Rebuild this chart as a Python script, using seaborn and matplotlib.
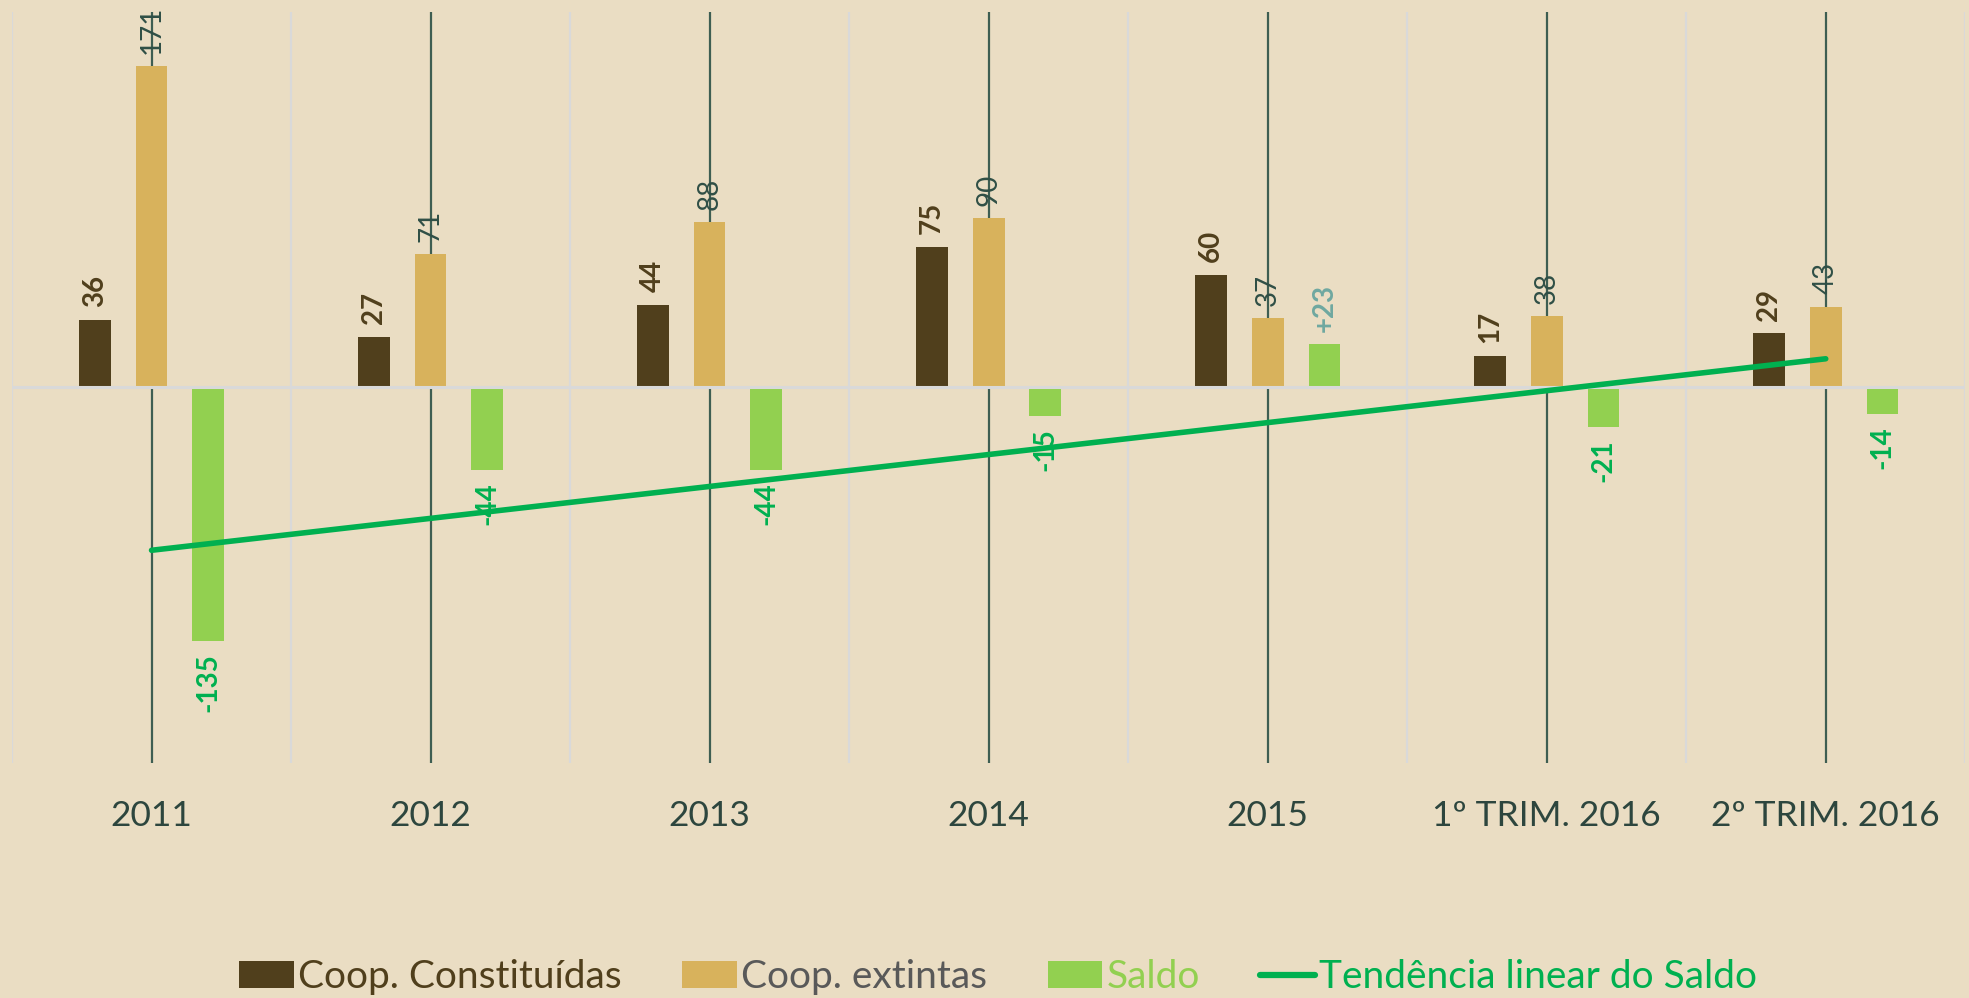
import matplotlib.pyplot as plt
import numpy as np
import pandas as pd
import seaborn as sns
from matplotlib.lines import Line2D
from matplotlib.patches import Patch


PERIODOS = ["2011", "2012", "2013", "2014", "2015", "1º TRIM. 2016", "2º TRIM. 2016"]
CONSTITUIDAS = [36, 27, 44, 75, 60, 17, 29]
EXTINTAS = [171, 71, 88, 90, 37, 38, 43]
SALDO = [-135, -44, -44, -15, 23, -21, -14]
SERIES = ["Coop. Constituídas", "Coop. extintas", "Saldo"]
TREND_NAME = "Tendência linear do Saldo"

BG = "#eaddc3"
BAR_COLORS = ["#503f1c", "#d8b25c", "#92d050"]
LEGEND_TEXT_COLORS = ["#503f1c", "#595959", "#92d050", "#00b050"]
TREND_COLOR = "#00b050"
CENTER_LINE = "#3e5e52"
GRID_LIGHT = "#d9d9d9"


def build_frame():
    rows = []
    for serie, values in zip(SERIES, [CONSTITUIDAS, EXTINTAS, SALDO]):
        for periodo, v in zip(PERIODOS, values):
            rows.append({"periodo": periodo, "serie": serie, "valor": v})
    return pd.DataFrame(rows)


def main():
    sns.set_theme(style="white")
    plt.rcParams["font.family"] = ["Lato", "DejaVu Sans"]

    df = build_frame()

    fig = plt.figure(figsize=(19.69, 9.98), dpi=100, facecolor=BG)
    ax = fig.add_axes([0.0061, 0.2355, 0.992, 0.7525])
    ax.set_facecolor(BG)

    # category separators and center lines
    for i in range(len(PERIODOS) + 1):
        ax.axvline(i - 0.5, color=GRID_LIGHT, lw=1.6, zorder=0.3)
    for i in range(len(PERIODOS)):
        ax.axvline(i, color=CENTER_LINE, lw=1.6, zorder=0.5)

    sns.barplot(
        data=df,
        x="periodo",
        y="valor",
        hue="serie",
        hue_order=SERIES,
        order=PERIODOS,
        palette=BAR_COLORS,
        width=0.61,
        gap=0.44,
        saturation=1,
        legend=False,
        linewidth=0,
        edgecolor="none",
        ax=ax,
        zorder=2,
    )

    ax.axhline(0, color=GRID_LIGHT, lw=2.2, zorder=3)

    # data labels
    label_styles = [
        dict(color="#503f1c", fontweight="bold"),
        dict(color="#2f4f46", fontweight="normal"),
        dict(color=TREND_COLOR, fontweight="bold"),
    ]
    for cont, values, style in zip(ax.containers, [CONSTITUIDAS, EXTINTAS, SALDO], label_styles):
        if values is SALDO:
            texts = [f"+{v}" if v > 0 else f"{v}" for v in values]
        else:
            texts = [str(v) for v in values]
        labels = ax.bar_label(cont, labels=texts, rotation=90, padding=9,
                              fontsize=20, zorder=4, **style)
        if values is SALDO:
            for t, v in zip(labels, values):
                if v > 0:
                    t.set_color("#6fa8a0")

    # linear trend of Saldo
    x = np.arange(len(PERIODOS))
    coef = np.polyfit(x, SALDO, 1)
    ax.plot(x, np.polyval(coef, x), color=TREND_COLOR, lw=4, zorder=5,
            solid_capstyle="round")

    ax.set_xlim(-0.5, len(PERIODOS) - 0.5)
    ax.set_ylim(-200, 200)
    ax.set_xlabel("")
    ax.set_ylabel("")
    ax.set_yticks([])
    ax.tick_params(axis="x", length=0, pad=27, labelsize=25.5, labelcolor="#2d463e")
    for s in ax.spines.values():
        s.set_visible(False)

    handles = [Patch(facecolor=c, edgecolor="none") for c in BAR_COLORS]
    handles.append(Line2D([0], [0], color=TREND_COLOR, lw=4.5))
    leg = fig.legend(
        handles,
        SERIES + [TREND_NAME],
        loc="center",
        bbox_to_anchor=(0.507, 0.021),
        ncol=4,
        frameon=False,
        fontsize=28,
        handlelength=1.4,
        handleheight=0.68,
        handletextpad=0.12,
        columnspacing=1.55,
        borderpad=0,
    )
    for t, c in zip(leg.get_texts(), LEGEND_TEXT_COLORS):
        t.set_color(c)

    fig.savefig("out.png", dpi=100, facecolor=BG)
    plt.close(fig)


if __name__ == "__main__":
    main()
